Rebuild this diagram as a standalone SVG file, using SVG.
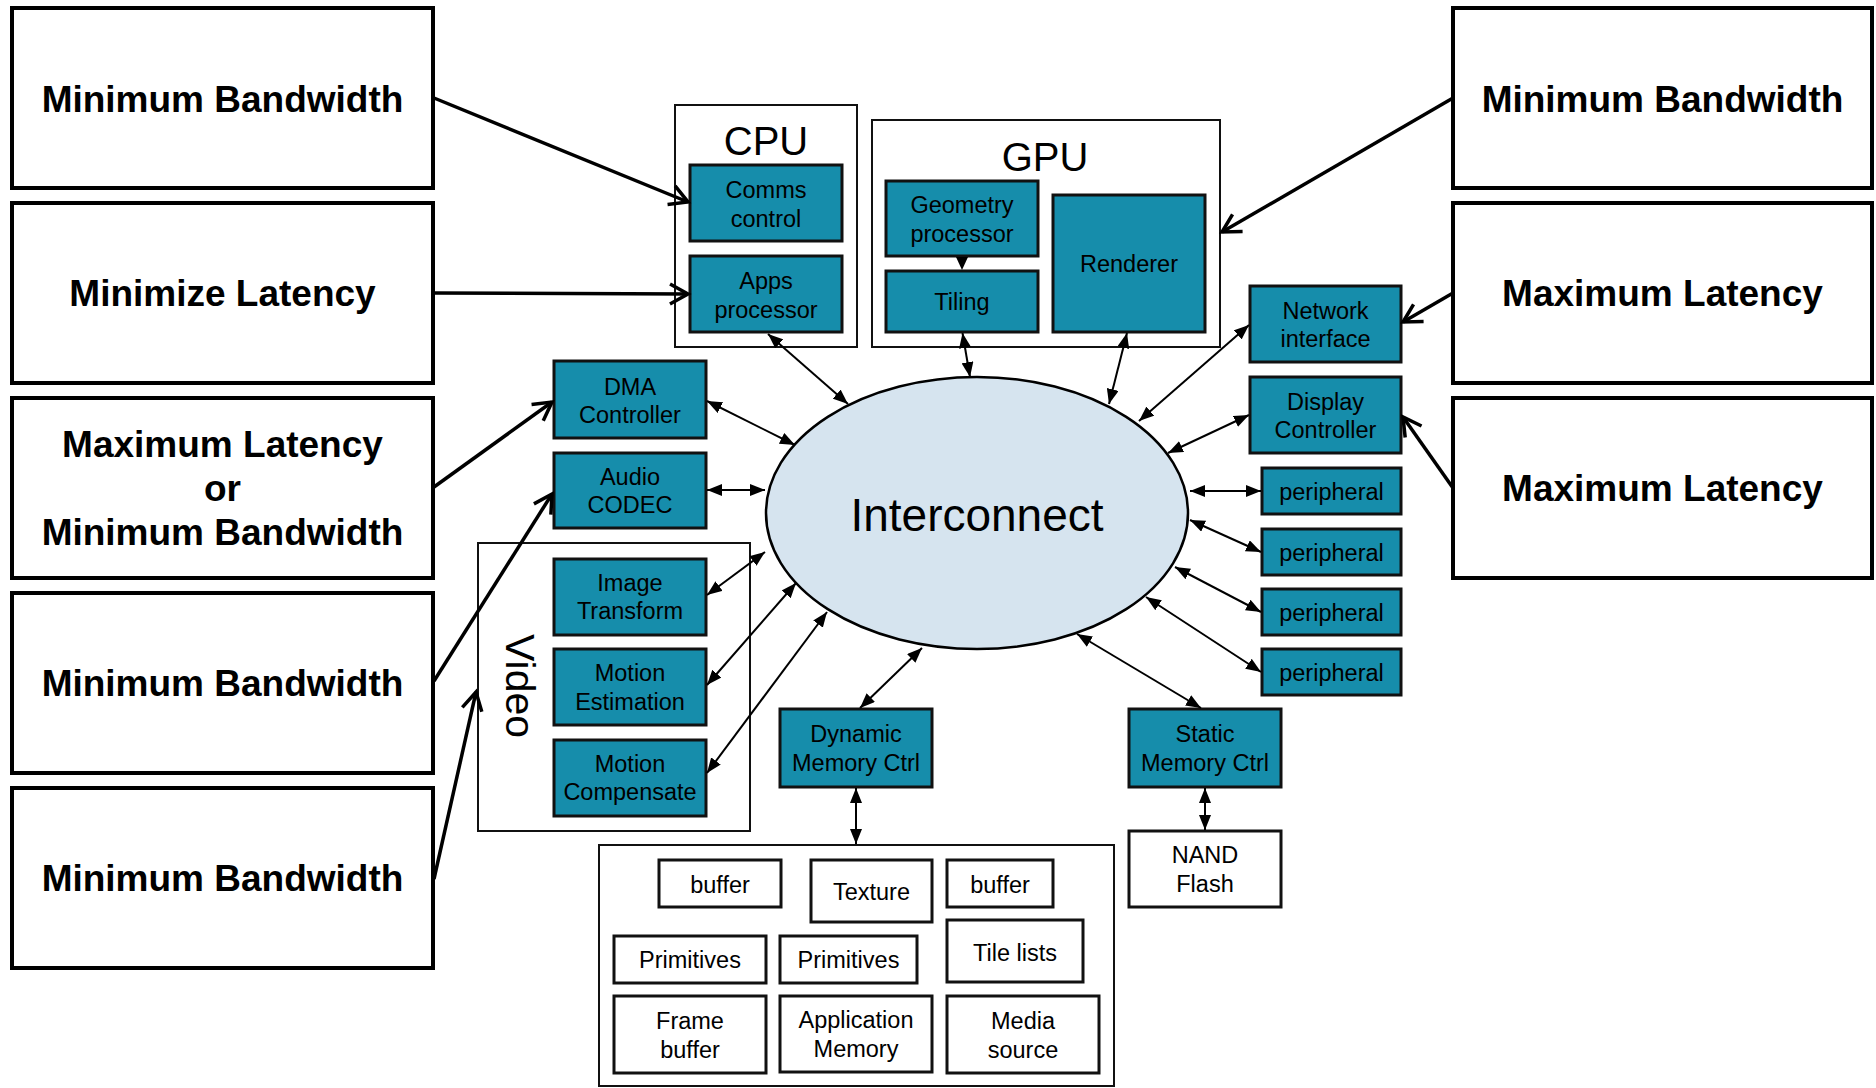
<svg xmlns="http://www.w3.org/2000/svg" width="1876" height="1088" viewBox="0 0 1876 1088">
<style>
text{font-family:"Liberation Sans",Arial,sans-serif;fill:#000;text-anchor:middle}
.big{font-size:37px;font-weight:bold}
.lbl{font-size:23.5px}
.title{font-size:40px}
.req{fill:#fff;stroke:#000;stroke-width:4}
.cont{fill:#fff;stroke:#111;stroke-width:2}
.teal{fill:#168DAB;stroke:#111;stroke-width:3}
.wbox{fill:#fff;stroke:#111;stroke-width:3}
.thick{stroke:#000;stroke-width:3.5;fill:none;marker-end:url(#open)}
.thin{stroke:#000;stroke-width:2;fill:none;marker-start:url(#tri);marker-end:url(#tri)}
</style>
<defs>
<marker id="tri" viewBox="0 0 15 12" refX="15" refY="6" markerWidth="15" markerHeight="12" markerUnits="userSpaceOnUse" orient="auto-start-reverse"><path d="M0,0 L15,6 L0,12 z" fill="#000"/></marker>
<marker id="open" viewBox="-3 -3 26 26" refX="18" refY="10" markerWidth="26" markerHeight="26" markerUnits="userSpaceOnUse" orient="auto"><path d="M0,0 L18,10 L0,20" fill="none" stroke="#000" stroke-width="3.5"/></marker>
</defs>
<rect width="1876" height="1088" fill="#fff"/>

<g id="req-left-1"><rect class="req" x="12" y="8" width="421" height="180"/><text class="big" x="222.5" y="112">Minimum Bandwidth</text></g>
<g id="req-left-2"><rect class="req" x="12" y="203" width="421" height="180"/><text class="big" x="222.5" y="306">Minimize Latency</text></g>
<g id="req-left-3"><rect class="req" x="12" y="398" width="421" height="180"/><text class="big" x="222.5" y="457">Maximum Latency</text><text class="big" x="222.5" y="501">or</text><text class="big" x="222.5" y="545">Minimum Bandwidth</text></g>
<g id="req-left-4"><rect class="req" x="12" y="593" width="421" height="180"/><text class="big" x="222.5" y="696">Minimum Bandwidth</text></g>
<g id="req-left-5"><rect class="req" x="12" y="788" width="421" height="180"/><text class="big" x="222.5" y="891">Minimum Bandwidth</text></g>

<g id="req-right-1"><rect class="req" x="1453" y="8" width="419" height="180"/><text class="big" x="1662.5" y="112">Minimum Bandwidth</text></g>
<g id="req-right-2"><rect class="req" x="1453" y="203" width="419" height="180"/><text class="big" x="1662.5" y="306">Maximum Latency</text></g>
<g id="req-right-3"><rect class="req" x="1453" y="398" width="419" height="180"/><text class="big" x="1662.5" y="501">Maximum Latency</text></g>

<g id="cpu"><rect class="cont" x="675" y="105" width="182" height="242"/><text class="title" x="766" y="155">CPU</text></g>
<g id="comms-control"><rect class="teal" x="690" y="165" width="152" height="76"/><text class="lbl" x="766" y="198">Comms</text><text class="lbl" x="766" y="227">control</text></g>
<g id="apps-processor"><rect class="teal" x="690" y="256" width="152" height="76"/><text class="lbl" x="766" y="289">Apps</text><text class="lbl" x="766" y="318">processor</text></g>

<g id="gpu"><rect class="cont" x="872" y="120" width="348" height="227"/><text class="title" x="1045" y="171">GPU</text></g>
<g id="geometry-processor"><rect class="teal" x="886" y="181" width="152" height="75"/><text class="lbl" x="962" y="213">Geometry</text><text class="lbl" x="962" y="242">processor</text></g>
<g id="tiling"><rect class="teal" x="886" y="271" width="152" height="61"/><text class="lbl" x="962" y="310">Tiling</text></g>
<g id="renderer"><rect class="teal" x="1053" y="195" width="152" height="137"/><text class="lbl" x="1129" y="272">Renderer</text></g>

<g id="network-interface"><rect class="teal" x="1250" y="286" width="151" height="76"/><text class="lbl" x="1325.5" y="319">Network</text><text class="lbl" x="1325.5" y="347">interface</text></g>
<g id="display-controller"><rect class="teal" x="1250" y="377" width="151" height="76"/><text class="lbl" x="1325.5" y="410">Display</text><text class="lbl" x="1325.5" y="438">Controller</text></g>
<g id="peripheral-1"><rect class="teal" x="1262" y="468" width="139" height="46"/><text class="lbl" x="1331.5" y="500">peripheral</text></g>
<g id="peripheral-2"><rect class="teal" x="1262" y="529" width="139" height="46"/><text class="lbl" x="1331.5" y="561">peripheral</text></g>
<g id="peripheral-3"><rect class="teal" x="1262" y="589" width="139" height="46"/><text class="lbl" x="1331.5" y="621">peripheral</text></g>
<g id="peripheral-4"><rect class="teal" x="1262" y="649" width="139" height="46"/><text class="lbl" x="1331.5" y="681">peripheral</text></g>

<g id="dma-controller"><rect class="teal" x="554" y="361" width="152" height="77"/><text class="lbl" x="630" y="395">DMA</text><text class="lbl" x="630" y="423">Controller</text></g>
<g id="audio-codec"><rect class="teal" x="554" y="453" width="152" height="75"/><text class="lbl" x="630" y="485">Audio</text><text class="lbl" x="630" y="513">CODEC</text></g>

<g id="video"><rect class="cont" x="478" y="543" width="272" height="288"/><text class="title" transform="translate(506,686) rotate(90)" style="font-size:41px">Video</text></g>
<g id="image-transform"><rect class="teal" x="554" y="559" width="152" height="76"/><text class="lbl" x="630" y="591">Image</text><text class="lbl" x="630" y="619">Transform</text></g>
<g id="motion-estimation"><rect class="teal" x="554" y="649" width="152" height="76"/><text class="lbl" x="630" y="681">Motion</text><text class="lbl" x="630" y="710">Estimation</text></g>
<g id="motion-compensate"><rect class="teal" x="554" y="740" width="152" height="76"/><text class="lbl" x="630" y="772">Motion</text><text class="lbl" x="630" y="800">Compensate</text></g>

<g id="interconnect"><ellipse cx="977" cy="513" rx="211" ry="136" fill="#D6E4EF" stroke="#000" stroke-width="2.5"/><text x="977" y="531" style="font-size:46px">Interconnect</text></g>

<g id="dynamic-memory-ctrl"><rect class="teal" x="780" y="709" width="152" height="78"/><text class="lbl" x="856" y="742">Dynamic</text><text class="lbl" x="856" y="771">Memory Ctrl</text></g>
<g id="static-memory-ctrl"><rect class="teal" x="1129" y="709" width="152" height="78"/><text class="lbl" x="1205" y="742">Static</text><text class="lbl" x="1205" y="771">Memory Ctrl</text></g>
<g id="nand-flash"><rect class="wbox" x="1129" y="831" width="152" height="76"/><text class="lbl" x="1205" y="863">NAND</text><text class="lbl" x="1205" y="892">Flash</text></g>

<g id="memory"><rect class="cont" x="599" y="845" width="515" height="241"/></g>
<g id="buffer-1"><rect class="wbox" x="659" y="860" width="122" height="47"/><text class="lbl" x="720" y="893">buffer</text></g>
<g id="texture"><rect class="wbox" x="811" y="860" width="121" height="62"/><text class="lbl" x="871.5" y="900">Texture</text></g>
<g id="buffer-2"><rect class="wbox" x="947" y="860" width="106" height="47"/><text class="lbl" x="1000" y="893">buffer</text></g>
<g id="primitives-1"><rect class="wbox" x="614" y="936" width="152" height="47"/><text class="lbl" x="690" y="968">Primitives</text></g>
<g id="primitives-2"><rect class="wbox" x="780" y="936" width="137" height="47"/><text class="lbl" x="848.5" y="968">Primitives</text></g>
<g id="tile-lists"><rect class="wbox" x="947" y="920" width="136" height="62"/><text class="lbl" x="1015" y="961">Tile lists</text></g>
<g id="frame-buffer"><rect class="wbox" x="614" y="996" width="152" height="77"/><text class="lbl" x="690" y="1029">Frame</text><text class="lbl" x="690" y="1058">buffer</text></g>
<g id="application-memory"><rect class="wbox" x="780" y="996" width="152" height="76"/><text class="lbl" x="856" y="1028">Application</text><text class="lbl" x="856" y="1057">Memory</text></g>
<g id="media-source"><rect class="wbox" x="947" y="996" width="152" height="77"/><text class="lbl" x="1023" y="1029">Media</text><text class="lbl" x="1023" y="1058">source</text></g>

<g id="connectors">
<line class="thick" x1="434" y1="98" x2="688" y2="202"/>
<line class="thick" x1="434" y1="293" x2="688" y2="294"/>
<line class="thick" x1="434" y1="487" x2="552" y2="402"/>
<line class="thick" x1="434" y1="681" x2="552" y2="494"/>
<line class="thick" x1="434" y1="879" x2="476" y2="692"/>
<line class="thick" x1="1453" y1="98" x2="1222" y2="232"/>
<line class="thick" x1="1453" y1="293" x2="1403" y2="322"/>
<line class="thick" x1="1453" y1="488" x2="1403" y2="417"/>

<line class="thin" x1="768" y1="334" x2="848" y2="404"/>
<line class="thin" x1="962.5" y1="333" x2="970" y2="377"/>
<line class="thin" x1="1127" y1="333" x2="1109" y2="404"/>
<line class="thin" x1="1249" y1="325" x2="1139" y2="421"/>
<line class="thin" x1="1249" y1="415" x2="1168" y2="453"/>
<line class="thin" x1="1261" y1="491" x2="1190" y2="491"/>
<line class="thin" x1="1261" y1="552" x2="1190" y2="520"/>
<line class="thin" x1="1261" y1="612" x2="1175" y2="567"/>
<line class="thin" x1="1261" y1="672" x2="1146" y2="597"/>
<line class="thin" x1="1201" y1="708" x2="1077" y2="634"/>
<line class="thin" x1="860" y1="708" x2="922" y2="648"/>
<line class="thin" x1="707" y1="401" x2="795" y2="445"/>
<line class="thin" x1="707" y1="490" x2="765" y2="490"/>
<line class="thin" x1="707" y1="595" x2="765" y2="552"/>
<line class="thin" x1="707" y1="685" x2="796" y2="583"/>
<line class="thin" x1="707" y1="773" x2="827" y2="612"/>
<line class="thin" x1="856" y1="788" x2="856" y2="844"/>
<line class="thin" x1="1205" y1="788" x2="1205" y2="830"/>
<polygon points="956,257 968,257 962,270" fill="#000"/>
</g>
</svg>
